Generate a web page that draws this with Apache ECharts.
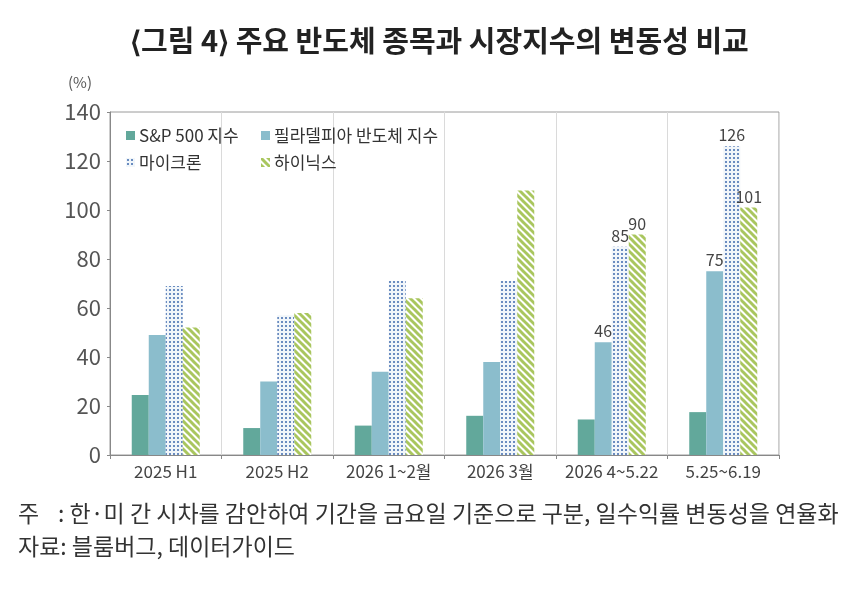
<!DOCTYPE html>
<html>
<head>
<meta charset="utf-8">
<script src="https://cdn.jsdelivr.net/npm/echarts@6/dist/echarts.min.js"></script>
<style>
html,body{margin:0;padding:0;background:#fff;}
#chart{width:856px;height:590px;}
</style>
</head>
<body>
<div id="chart"></div>
<script>
var categories = ['2025 H1', '2025 H2', '2026 1~2월', '2026 3월', '2026 4~5.22', '5.25~6.19'];
var seriesNames = ['S&P 500 지수', '필라델피아 반도체 지수', '마이크론', '하이닉스'];
var spValues = [24.5, 11, 12, 16, 14.5, 17.5];
var phlxValues = [49, 30, 34, 38, 46, 75];
var micronValues = [69, 57, 71, 71, 85, 126];
var hynixValues = [52, 58, 64, 108, 90, 101];
var labeledIndex = [4, 5];
var yTicks = [0, 20, 40, 60, 80, 100, 120, 140];

var FONT = '"Noto Sans CJK KR", "Noto Sans", sans-serif';

function dotPattern() {
  var c = document.createElement('canvas');
  c.width = 4; c.height = 4;
  var ctx = c.getContext('2d');
  ctx.fillStyle = '#f1f6fa';
  ctx.fillRect(0, 0, 4, 4);
  ctx.fillStyle = '#6a8cc0';
  ctx.fillRect(1, 1, 2, 2);
  return { image: c, repeat: 'repeat' };
}
function stripePattern() {
  var s = 7;
  var c = document.createElement('canvas');
  c.width = s; c.height = s;
  var ctx = c.getContext('2d');
  ctx.fillStyle = '#ffffff';
  ctx.fillRect(0, 0, s, s);
  ctx.strokeStyle = '#a9c65e';
  ctx.lineWidth = 3;
  for (var k = -s; k <= s; k += s) {
    ctx.beginPath();
    ctx.moveTo(k - 1, -1);
    ctx.lineTo(k + s + 1, s + 1);
    ctx.stroke();
  }
  return { image: c, repeat: 'repeat' };
}

var colors = ['#62a89b', '#8bbdcc', dotPattern(), stripePattern()];
var values = [spValues, phlxValues, micronValues, hynixValues];
var withLabels = [false, true, true, true];

var series = values.map(function (vals, si) {
  return {
    name: seriesNames[si],
    type: 'bar',
    barWidth: 17,
    barGap: '0%',
    itemStyle: { color: colors[si] },
    data: vals.map(function (v, i) {
      var show = withLabels[si] && labeledIndex.indexOf(i) >= 0;
      return { value: v, label: { show: show } };
    }),
    label: {
      position: 'top', distance: 3,
      color: '#444', fontSize: 16, fontFamily: FONT
    }
  };
});

function legendAt(name, left, top) {
  return {
    data: [name], left: left, top: top, orient: 'horizontal',
    itemWidth: 9, itemHeight: 9, itemGap: 4,
    icon: 'rect',
    textStyle: { fontSize: 17, color: '#333', fontFamily: FONT, padding: [0, 0, 0, -1] }
  };
}

var chart = echarts.init(document.getElementById('chart'));
chart.setOption({
  animation: false,
  backgroundColor: '#ffffff',
  grid: { left: 110, right: 77, top: 112, bottom: 135, show: true, borderColor: '#9a9a9a', borderWidth: 1 },
  legend: [
    legendAt(seriesNames[0], 121, 122),
    legendAt(seriesNames[1], 256, 122),
    legendAt(seriesNames[2], 121, 149),
    legendAt(seriesNames[3], 256, 149)
  ],
  xAxis: {
    type: 'category',
    data: categories,
    axisLine: { lineStyle: { color: '#888' } },
    axisTick: { show: true, interval: 0, length: 4, lineStyle: { color: '#888' } },
    splitLine: { show: true, interval: 0, lineStyle: { color: '#dadada' } },
    axisLabel: { interval: 0, hideOverlap: false, color: '#444', fontSize: 17, fontFamily: FONT, margin: 8 }
  },
  yAxis: {
    type: 'value',
    min: yTicks[0], max: yTicks[yTicks.length - 1], interval: 20,
    axisLine: { show: true, lineStyle: { color: '#888' } },
    axisTick: { show: true, length: 3, lineStyle: { color: '#888' } },
    splitLine: { show: false },
    axisLabel: { color: '#555', fontSize: 22, fontFamily: FONT, margin: 9 }
  },
  series: series,
  graphic: [
    { type: 'text', left: 130, top: 26, style: { text: '⟨그림 4⟩ 주요 반도체 종목과 시장지수의 변동성 비교', font: 'bold 29px ' + FONT, fill: '#222' } },
    { type: 'text', left: 68, top: 75, style: { text: '(%)', font: '15px ' + FONT, fill: '#555' } },
    { type: 'text', left: 18, top: 502, style: { text: '주', font: '23px ' + FONT, fill: '#333' } },
    { type: 'text', left: 58, top: 502, style: { text: ': 한·미 간 시차를 감안하여 기간을 금요일 기준으로 구분, 일수익률 변동성을 연율화', font: '23px ' + FONT, fill: '#333' } },
    { type: 'text', left: 18, top: 535, style: { text: '자료: 블룸버그, 데이터가이드', font: '23px ' + FONT, fill: '#333' } }
  ]
});
</script>
</body>
</html>
